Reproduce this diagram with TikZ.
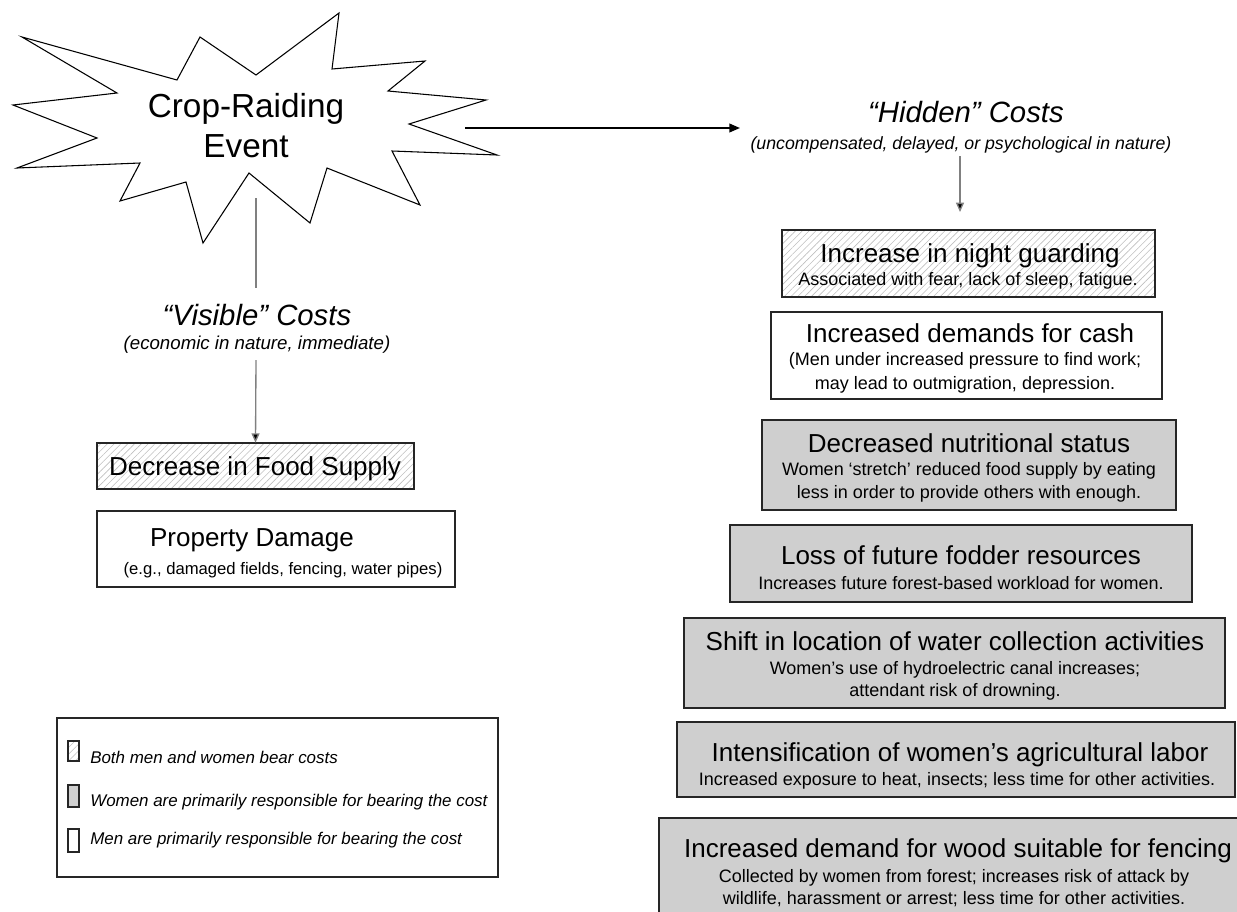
\documentclass[tikz,border=0pt]{standalone}
\usepackage{fontspec}
\setmainfont{Liberation Sans}
\usetikzlibrary{arrows.meta,patterns.meta}
\definecolor{boxgray}{HTML}{CFCFCF}
\definecolor{linegray}{HTML}{808080}
\begin{document}
\begin{tikzpicture}[x=0.75pt,y=-0.75pt,
  bx/.style 2 args={rectangle, draw=black!85, line width=1pt, inner sep=0pt,
     minimum width=#1*0.75pt, minimum height=#2*0.75pt},
  hatch/.style={pattern={Lines[angle=45,distance=3.6pt,line width=0.45pt]}, pattern color=black!25},
  grayfill/.style={fill=boxgray},
  whitefill/.style={fill=white},
  T/.style={font=\fontsize{19.5}{23}\selectfont, text height=14pt, text depth=0pt, inner sep=0pt},
  S/.style={font=\fontsize{13.5}{16}\selectfont, text height=9.7pt, text depth=0pt, inner sep=0pt},
  H/.style={font=\itshape\fontsize{22}{26}\selectfont, text height=15.8pt, text depth=0pt, inner sep=0pt},
  HS/.style={font=\itshape\fontsize{13.3}{16}\selectfont, text height=9.6pt, text depth=0pt, inner sep=0pt},
  E/.style={font=\fontsize{25}{30}\selectfont, text height=17.9pt, text depth=0pt, inner sep=0pt},
  L/.style={font=\itshape\fontsize{12.7}{15}\selectfont, text height=9.1pt, text depth=0pt, inner sep=0pt, anchor=west},
  key/.style={rectangle, draw=black!85, line width=0.8pt, inner sep=0pt, minimum width=11*0.75pt},
  conn/.style={draw=linegray, line width=1pt},
  arr/.style={draw=linegray, line width=1pt, -{Triangle[length=7pt,width=6pt,fill=black]}},
  harr/.style={draw=black, line width=1.3pt, -{Triangle[length=8pt,width=6.5pt]}}
]
\useasboundingbox (0,0) rectangle (1237,911);

% starburst
\draw[line width=0.8pt, fill=white] (22,37) -- (177,80) -- (200,37) -- (256,75) -- (339,13) -- (332,69)
  -- (425,61) -- (388,91) -- (486,100) -- (409,124) -- (497,155) -- (392,151) -- (420,205)
  -- (327,168) -- (310,223) -- (249,173) -- (203,243) -- (186,182) -- (120,201) -- (140,163)
  -- (17,168) -- (97,138) -- (13,105) -- (117,93) -- cycle;
\node[E] (ev1) at (246,106) {Crop-Raiding};
\node[E] (ev2) at (246,146) {Event};

% visible costs
\node[H] (vis) at (257,315) {``Visible'' Costs};
\node[HS, font=\itshape\fontsize{14}{16}\selectfont] (vissub) at (257,343) {(economic in nature, immediate)};
\coordinate (sb) at (256,198);
\coordinate (visTop) at (256,288);
\draw[conn] (sb) -- (visTop);

% hidden costs
\node[H] (hid) at (966,112) {``Hidden'' Costs};
\node[HS] (hidsub) at (961,143) {(uncompensated, delayed, or psychological in nature)};
\coordinate (sr) at (465,128);
\coordinate (hidIn) at (740,128);
\draw[harr] (sr) -- (hidIn);

% left boxes
\node[bx={317}{46}, hatch] (food) at (255.5,466) {};
\node[T] (foodt) at (255,466) {Decrease in Food Supply};
\node[bx={358}{76}, whitefill] (prop) at (276,549) {};
\node[T] (propt) at (252,537) {Property Damage};
\node[S, font=\fontsize{12.5}{15}\selectfont] (props) at (283,568) {(e.g., damaged fields, fencing, water pipes)};

\coordinate (visBot) at (256,360);
\draw[arr] (visBot) -- (food.north);

% right boxes
\node[bx={373}{67}, hatch] (night) at (968.5,263.5) {};
\node[T] at (970,253) (nightt) {Increase in night guarding};
\node[S] at (968,279) (nights) {Associated with fear, lack of sleep, fatigue.};

\coordinate (hidBot) at (960,156);
\coordinate (nightIn) at (960,212);
\draw[arr] (hidBot) -- (nightIn);

\node[bx={391}{87}, whitefill] (cash) at (966.5,355.5) {};
\node[T] (casht) at (970,333) {Increased demands for cash};
\node[S] (cashs1) at (965,359) {(Men under increased pressure to find work;};
\node[S] (cashs2) at (965,383) {may lead to outmigration, depression.};

\node[bx={414}{90}, grayfill] (nutr) at (969,465) {};
\node[T] (nutrt) at (969,443) {Decreased nutritional status};
\node[S] (nutrs1) at (969,469) {Women ‘stretch’ reduced food supply by eating};
\node[S] (nutrs2) at (969,492) {less in order to provide others with enough.};

\node[bx={462}{77}, grayfill] (fodder) at (961,563.5) {};
\node[T] (foddert) at (961,555) {Loss of future fodder resources};
\node[S] (fodders) at (961,583) {Increases future forest-based workload for women.};

\node[bx={541}{90}, grayfill] (shift) at (954.5,663) {};
\node[T] (shiftt) at (955,641) {Shift in location of water collection activities};
\node[S] (shifts1) at (955,668) {Women’s use of hydroelectric canal increases;};
\node[S] (shifts2) at (955,690) {attendant risk of drowning.};

\node[bx={558}{75}, grayfill] (intens) at (956,759.5) {};
\node[T] (intenst) at (960,752) {Intensification of women’s agricultural labor};
\node[S] (intenss) at (957,779) {Increased exposure to heat, insects; less time for other activities.};

\node[bx={601}{118}, grayfill] (wood) at (959.5,877) {};
\node[T] (woodt) at (958,848) {Increased demand for wood suitable for fencing};
\node[S] (woods1) at (954,876) {Collected by women from forest; increases risk of attack by};
\node[S] (woods2) at (954,898) {wildlife, harassment or arrest; less time for other activities.};

% legend
\node[bx={441}{159}, whitefill] (legend) at (277.5,797.5) {};
\node[key, minimum height=20*0.75pt, hatch] (k1) at (73.5,751) {};
\node[key, minimum height=22*0.75pt, grayfill] (k2) at (73.5,796) {};
\node[key, minimum height=23*0.75pt, whitefill] (k3) at (73.5,840.5) {};
\node[L] (l1) at (90,757) {Both men and women bear costs};
\node[L] (l2) at (90,800) {Women are primarily responsible for bearing the cost};
\node[L] (l3) at (90,838) {Men are primarily responsible for bearing the cost};
\end{tikzpicture}
\end{document}
